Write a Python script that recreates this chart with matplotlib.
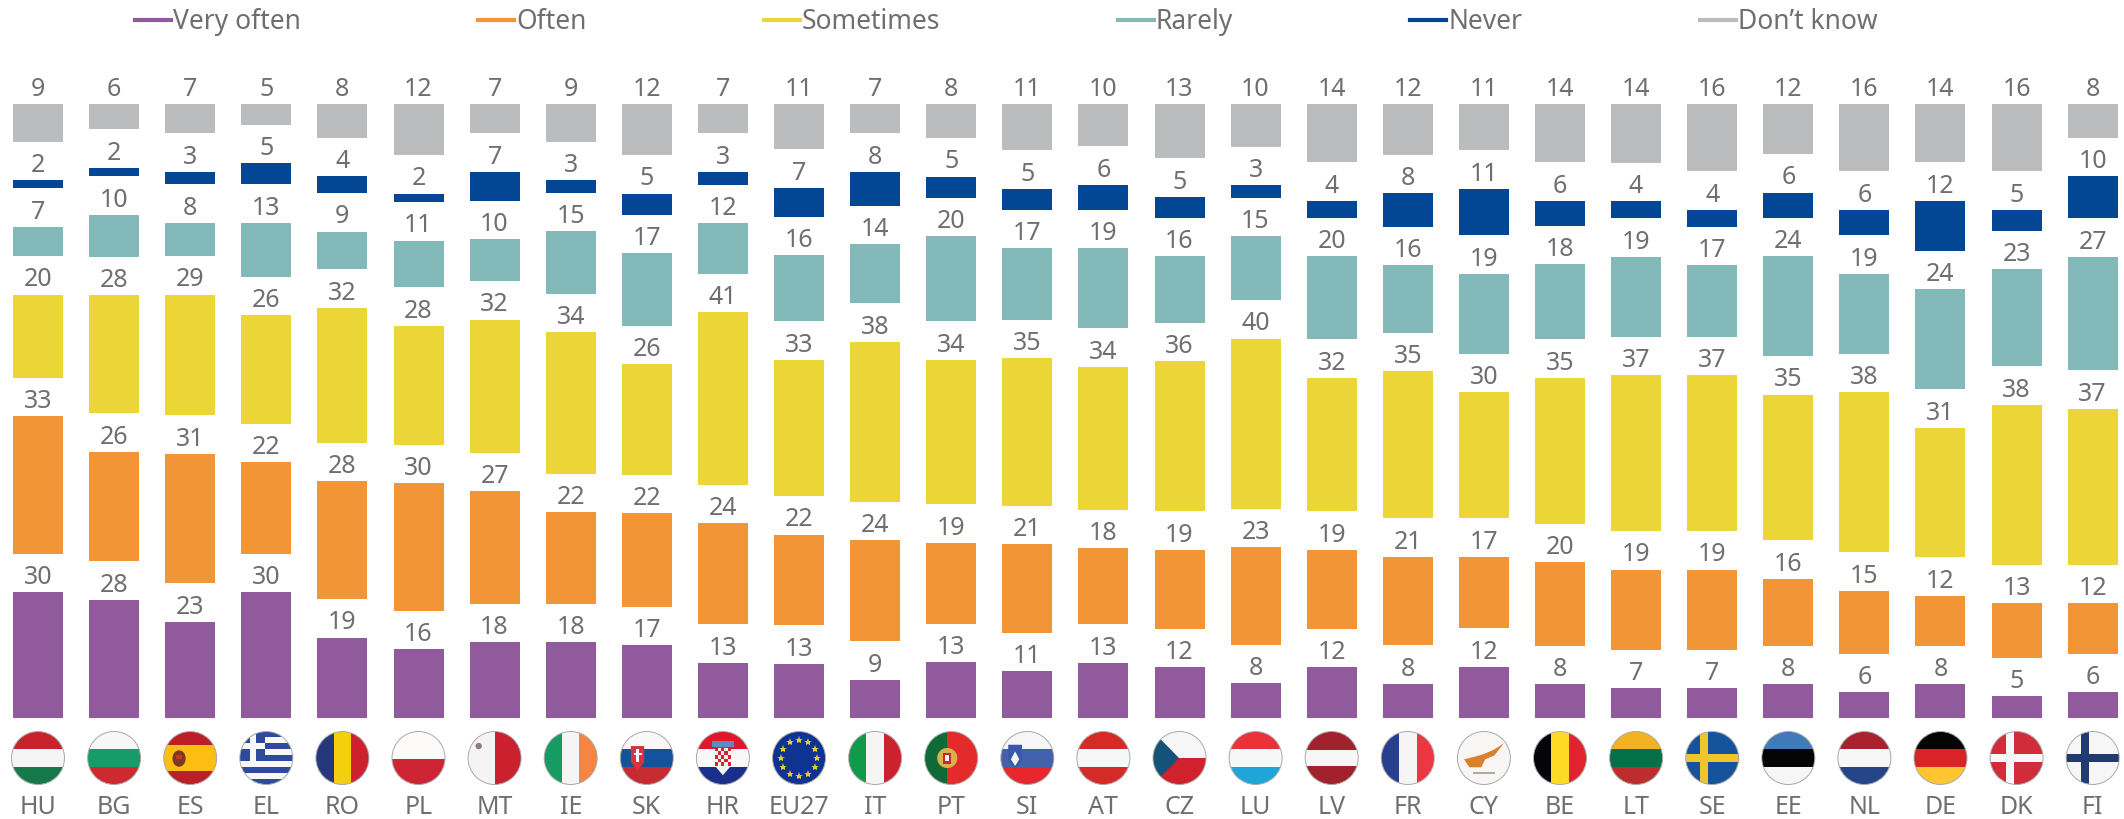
import numpy as np
import matplotlib
matplotlib.use("Agg")
import matplotlib.pyplot as plt
from matplotlib.patches import Circle, Rectangle, Polygon, Ellipse
from matplotlib.transforms import Affine2D

plt.rcParams['font.family'] = ['Noto Sans', 'DejaVu Sans']

countries = ["HU","BG","ES","EL","RO","PL","MT","IE","SK","HR","EU27","IT","PT","SI","AT","CZ","LU","LV","FR","CY","BE","LT","SE","EE","NL","DE","DK","FI"]
very_often = [30,28,23,30,19,16,18,18,17,13,13,9,13,11,13,12,8,12,8,12,8,7,7,8,6,8,5,6]
often      = [33,26,31,22,28,30,27,22,22,24,22,24,19,21,18,19,23,19,21,17,20,19,19,16,15,12,13,12]
sometimes  = [20,28,29,26,32,28,32,34,26,41,33,38,34,35,34,36,40,32,35,30,35,37,37,35,38,31,38,37]
rarely     = [7,10,8,13,9,11,10,15,17,12,16,14,20,17,19,16,15,20,16,19,18,19,17,24,19,24,23,27]
never      = [2,2,3,5,4,2,7,3,5,3,7,8,5,5,6,5,3,4,8,11,6,4,4,6,6,12,5,10]
dont_know  = [9,6,7,5,8,12,7,9,12,7,11,7,8,11,10,13,10,14,12,11,14,14,16,12,16,14,16,8]

series_names = ["Very often","Often","Sometimes","Rarely","Never","Don\u2019t know"]
series = [very_often, often, sometimes, rarely, never, dont_know]
colors = ["#915A9C","#F29537","#ECD536","#84B9B9","#034693","#BBBCBE"]
TEXT = "#6F6F6F"

W, H = 2124, 819
AX_BOTTOM = 717.5
PX_X = 76.1          # px per category
PX_Y = 4.21          # px per percent
GAP = 38.5 / PX_Y    # fixed blank between stacked segments

fig = plt.figure(figsize=(W/100, H/100), dpi=100, facecolor="white")
ax = fig.add_axes([0, (H-AX_BOTTOM)/H, 1, AX_BOTTOM/H])
ax.set_xlim(-38/PX_X, (W-38)/PX_X)
ax.set_ylim(0, AX_BOTTOM/PX_Y)
for s in ax.spines.values():
    s.set_visible(False)
ax.set_yticks([])

x = np.arange(len(countries))
ax.set_xticks(x, countries)
ax.tick_params(axis="x", length=0, pad=56, labelsize=18, labelcolor=TEXT)

arr = np.array(series, dtype=float)
heights = arr * 100 / arr.sum(axis=0)   # published shares sum to 100 before rounding
bottom = np.zeros(len(countries))
for name, h, vals, c in zip(series_names, heights, series, colors):
    bars = ax.bar(x, h, bottom=bottom, width=50/PX_X, color=c, label=name, linewidth=0)
    ax.bar_label(bars, labels=[str(v) for v in vals], padding=1.5, fontsize=18, color=TEXT)
    bottom = bottom + h + GAP

# legend: line keys
handles = [plt.Line2D([], [], color=c, lw=3) for c in colors]
ax.legend(handles, series_names, ncol=6, frameon=False, fontsize=19, labelcolor=TEXT,
          loc="upper left", bbox_to_anchor=(135/W, 0.989), borderpad=0, borderaxespad=0,
          handlelength=1.36, handletextpad=0.08, columnspacing=6.72)

# flags
FLAG_Y = -(758-AX_BOTTOM)/PX_Y
R = 26.5

def tf(i):
    return Affine2D().scale(R/PX_X, R/PX_Y).translate(i, FLAG_Y) + ax.transData

def add(i, clip, patch):
    patch.set_transform(tf(i))
    patch.set_linewidth(0)
    ax.add_patch(patch)
    patch.set_clip_box(None)
    patch.set_clip_path(clip)

def hstripes(i, clip, cols, edges=None):
    n = len(cols)
    edges = edges or list(np.linspace(1, -1, n+1))
    for k, c in enumerate(cols):
        add(i, clip, Rectangle((-1, edges[k+1]), 2, edges[k]-edges[k+1], fc=c))

def vstripes(i, clip, cols, edges=None):
    n = len(cols)
    edges = edges or list(np.linspace(-1, 1, n+1))
    for k, c in enumerate(cols):
        add(i, clip, Rectangle((edges[k], -1), edges[k+1]-edges[k], 2, fc=c))

def cross(i, clip, bg, fg, vx, w=0.3):
    add(i, clip, Rectangle((-1,-1), 2, 2, fc=bg))
    add(i, clip, Rectangle((-1,-w/2), 2, w, fc=fg))
    add(i, clip, Rectangle((vx-w/2,-1), w, 2, fc=fg))

def draw_flag(code, i):
    clip = Circle((0, 0), 1, transform=tf(i), fc="white", ec="none")
    ax.add_patch(clip)
    clip.set_clip_on(False)
    band = [1, 0.33, -0.33, -1]
    if code == "HU": hstripes(i, clip, ["#C8232C","#F5F5F5","#16794C"], band)
    elif code == "BG": hstripes(i, clip, ["#F7F7F7","#169B6B","#CC2A30"], band)
    elif code == "ES":
        hstripes(i, clip, ["#BE1E26","#FDBE14","#BE1E26"], [1,0.5,-0.5,-1])
        add(i, clip, Ellipse((-0.42,-0.02), 0.5, 0.62, fc="#7A3A1C"))
        add(i, clip, Rectangle((-0.52,-0.05), 0.2, 0.18, fc="#C9352A"))
    elif code == "EL":
        edges = list(np.linspace(1,-1,10))
        hstripes(i, clip, ["#2E4A9E" if k%2==0 else "#F8F8F8" for k in range(9)], edges)
        add(i, clip, Rectangle((-1,edges[5]), 0.95, 1-edges[5], fc="#2E4A9E"))
        add(i, clip, Rectangle((-1,edges[3]+0.02), 0.95, 0.2, fc="#F8F8F8"))
        add(i, clip, Rectangle((-0.62,edges[5]), 0.22, 1-edges[5], fc="#F8F8F8"))
    elif code == "RO": vstripes(i, clip, ["#24397C","#F2D00F","#CE202E"], [-1,-0.33,0.33,1])
    elif code == "PL": hstripes(i, clip, ["#FCFBF9","#CF2433"], [1,-0.05,-1])
    elif code == "MT":
        vstripes(i, clip, ["#F5F3F3","#CB202E"], [-1,0,1])
        add(i, clip, Circle((-0.6,0.45), 0.12, fc="#8A8080"))
    elif code == "IE": vstripes(i, clip, ["#169B62","#F5F5F5","#F58543"], [-1,-0.33,0.33,1])
    elif code == "SK":
        hstripes(i, clip, ["#F8F8F8","#15519C","#C52B30"], band)
        add(i, clip, Polygon([(-0.6,0.45),(-0.1,0.45),(-0.1,-0.15),(-0.35,-0.5),(-0.6,-0.15)], fc="#D8333A"))
        add(i, clip, Rectangle((-0.4,-0.15), 0.1, 0.5, fc="white"))
        add(i, clip, Rectangle((-0.5,0.12), 0.3, 0.08, fc="white"))
    elif code == "HR":
        hstripes(i, clip, ["#E0162B","#F8F8F8","#1A2F8C"], band)
        add(i, clip, Polygon([(-0.3,0.38),(0.3,0.38),(0.3,-0.3),(0,-0.65),(-0.3,-0.3)], fc="#F3F3F3"))
        for a in range(5):
            for b in range(5):
                if (a+b)%2==0:
                    add(i, clip, Rectangle((-0.3+a*0.12, 0.26-b*0.14), 0.12, 0.14, fc="#D8232F"))
        add(i, clip, Rectangle((-0.42,0.42), 0.84, 0.22, fc="#5C8CC4"))
    elif code == "EU27":
        add(i, clip, Rectangle((-1,-1), 2, 2, fc="#0F3391"))
        th = np.arange(12)*np.pi/6
        star = ax.plot(0.68*np.cos(th), 0.68*np.sin(th), ls="", marker="*", ms=6, color="#E8C92E",
                mew=0, transform=tf(i))[0]
        star.set_clip_on(False)
    elif code == "IT": vstripes(i, clip, ["#109A4C","#F5F5F5","#CD212D"], [-1,-0.33,0.33,1])
    elif code == "PT":
        vstripes(i, clip, ["#0F6A38","#E42B2B"], [-1,-0.15,1])
        add(i, clip, Circle((-0.15,0), 0.38, fc="#D9B24A"))
        add(i, clip, Rectangle((-0.3,-0.22), 0.3, 0.42, fc="#C22A2A"))
        add(i, clip, Rectangle((-0.22,-0.12), 0.14, 0.22, fc="#F5F5F5"))
    elif code == "SI":
        hstripes(i, clip, ["#F6F6F6","#4262AE","#E8262E"], band)
        add(i, clip, Polygon([(-0.72,0.5),(-0.2,0.5),(-0.2,-0.1),(-0.46,-0.4),(-0.72,-0.1)], fc="#3A58A8"))
        add(i, clip, Polygon([(-0.62,-0.05),(-0.46,0.25),(-0.3,-0.05),(-0.46,-0.3)], fc="#F5F5F5"))
    elif code == "AT": hstripes(i, clip, ["#D52B27","#F7F7F7","#D52B27"], band)
    elif code == "CZ":
        hstripes(i, clip, ["#F6F6F6","#CF212E"], [1,0,-1])
        add(i, clip, Polygon([(-1,1),(-0.02,0),(-1,-1)], fc="#14527A"))
    elif code == "LU": hstripes(i, clip, ["#EA3238","#F7F7F7","#1FA5D8"], band)
    elif code == "LV": hstripes(i, clip, ["#A1212D","#F7F7F7","#A1212D"], [1,0.3,-0.3,-1])
    elif code == "FR": vstripes(i, clip, ["#283E8F","#F5F5F5","#EE3542"], [-1,-0.33,0.33,1])
    elif code == "CY":
        add(i, clip, Rectangle((-1,-1), 2, 2, fc="#F7F6F4"))
        add(i, clip, Polygon([(-0.75,-0.05),(-0.35,0.05),(0,0.15),(0.35,0.3),(0.75,0.55),(0.4,0.1),(0.05,-0.05),(-0.1,-0.35),(-0.55,-0.35)], fc="#D9822B"))
        add(i, clip, Rectangle((-0.4,-0.62), 0.8, 0.1, fc="#A8AE98"))
    elif code == "BE": vstripes(i, clip, ["#050505","#FDDA24","#E0232E"], [-1,-0.33,0.33,1])
    elif code == "LT": hstripes(i, clip, ["#F2B322","#05714A","#BE2D2D"], band)
    elif code == "SE": cross(i, clip, "#15549A", "#EFC52D", -0.3)
    elif code == "EE": hstripes(i, clip, ["#4179B9","#050505","#F6F6F6"], band)
    elif code == "NL": hstripes(i, clip, ["#A8212D","#F7F7F7","#254588"], band)
    elif code == "DE": hstripes(i, clip, ["#050505","#DC2229","#FDC630"], band)
    elif code == "DK": cross(i, clip, "#D22B3A", "#F7F7F7", -0.25)
    elif code == "FI": cross(i, clip, "#F6F6F6", "#213A70", -0.3)
    rim = Circle((0, 0), 1, transform=tf(i), fc="none", ec="#A9A9A9", lw=0.7)
    ax.add_patch(rim)
    rim.set_clip_on(False)

for i, code in enumerate(countries):
    draw_flag(code, i)

fig.savefig("out.png", dpi=100)
